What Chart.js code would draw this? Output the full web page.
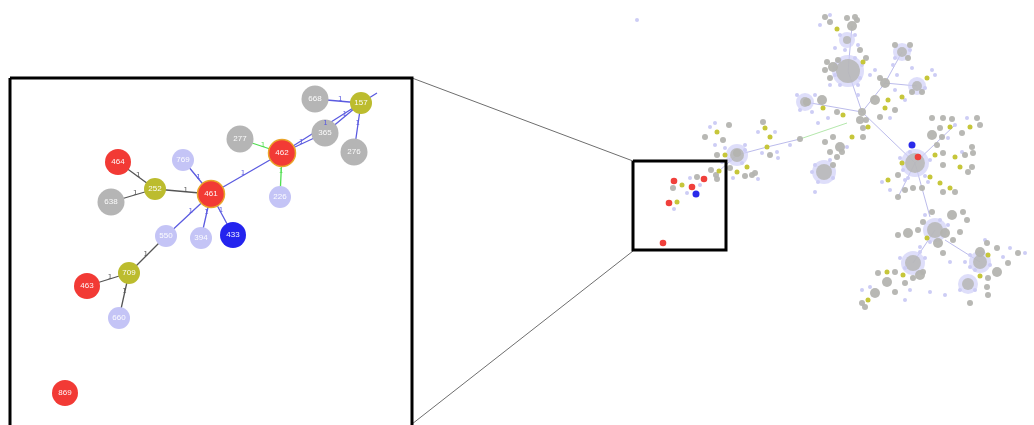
<!DOCTYPE html>
<html lang="en">
<head>
    <meta charset="UTF-8">
    <title>Network overview with zoomed detail</title>
    <style>
        body { margin: 0; padding: 0; background: #fff; }
        .wrap { width: 1034px; height: 425px; }
    </style>
    <script src="https://cdn.jsdelivr.net/npm/chart.js"></script>
</head>
<body>
<div class="wrap"><canvas id="net"></canvas></div>
<script>
    // Zoomed inset: node ids, layout positions and type
    const insetIds  = ['668','157','365','276','277','462','226','464','769','252','461','638','550','394','433','709','463','660','869'];
    const insetX    = [315, 361, 325, 354, 240, 282, 280, 118, 183, 155, 211, 111, 166, 201, 233, 129, 87, 119, 65];
    const insetY    = [99, 103, 133, 152, 139, 153, 197, 162, 160, 189, 194, 202, 236, 238, 235, 273, 286, 318, 393];
    const insetKind = ['gray','olive','gray','gray','gray','hub','lav','red','lav','olive','hub','gray','lav','lav','blue','olive','red','lav','red'];

    // Inset edges: from, to, colour class
    const insetEdges = [
        ['668','157','b'], ['365','157','b'], ['462','157','b'], ['276','157','b'],
        ['365','462','b'], ['277','462','g'], ['226','462','g'], ['462','461','b'],
        ['769','461','b'], ['252','461','k'], ['464','252','k'], ['638','252','k'],
        ['550','461','b'], ['394','461','b'], ['433','461','b'], ['550','709','k'],
        ['463','709','k'], ['660','709','k']
    ];
    const outEdge = [[361, 103], [377, 93]]; // 157 continues out of frame

    // Frames
    const bigBox  = [[10, 78], [412, 78], [412, 432], [10, 432], [10, 78]];
    const miniBox = [[633, 161], [726, 161], [726, 250], [633, 250], [633, 161]];
    const links   = [[[412, 78], [633, 161]], [[412, 424], [633, 251]]];

    // Overview network: dense clusters [x, y, r]
    const netBlobs = [[848,71,12],[915,163,10],[935,230,8],[913,263,8],[980,262,7],[968,284,6],
                      [737,155,7],[824,172,8],[805,102,5],[902,52,5],[917,86,5],[847,40,4]];
    // gray nodes [x, y, r]
    const netGray = [
        [825,17,3],[830,22,3],[847,18,3],[855,17,3],[852,26,5],[838,60,3],[833,67,5],[827,62,3],[825,70,3],[830,78,3],
        [857,20,3],[860,50,3],[866,58,3],[895,45,3],[910,45,3],[908,58,3],[885,83,5],[880,78,3],[912,92,3],[922,92,3],
        [862,112,4],[860,120,4],[866,120,3],[875,100,5],[895,110,3],[880,117,3],[863,128,3],[863,137,3],
        [807,102,4],[822,100,5],[837,112,3],[800,139,3],[833,137,3],[840,147,5],[825,142,3],[830,152,3],[842,152,3],[837,157,3],[833,165,3],
        [723,140,3],[729,125,3],[705,137,3],[737,153,4],[717,155,3],[730,168,3],[745,176,3],[752,175,3],[755,173,3],[763,122,3],[770,155,3],
        [932,118,3],[943,118,3],[952,119,3],[940,128,3],[932,135,5],[942,137,3],[937,145,3],[962,133,3],[977,118,3],[980,125,3],
        [943,153,3],[972,147,3],[973,153,3],[965,155,3],[943,165,3],[972,167,3],[968,172,3],[898,175,3],[905,190,3],[913,188,3],
        [922,188,3],[898,197,3],[943,192,3],[955,192,3],
        [952,215,5],[945,233,5],[963,212,3],[918,230,3],[908,233,5],[898,235,3],[938,243,5],[943,253,3],[953,240,3],[960,232,3],
        [967,220,3],[932,212,3],[923,222,3],
        [980,252,5],[987,243,3],[997,248,3],[1018,253,3],[1008,263,3],[997,272,5],[988,278,3],[987,287,3],[988,295,3],[970,303,3],
        [920,275,5],[913,278,3],[895,272,3],[878,273,3],[887,282,5],[895,292,3],[905,283,3],[875,293,5],[865,307,3],[862,303,3],[923,272,3],
        [711,170,3],[716,175,3],[717,179,3],[697,177,3],[673,188,3]
    ];
    // olive nodes [x, y]
    const netOlive = [
        [837,29],[823,108],[843,115],[852,137],[717,132],[725,155],[767,147],[765,128],[770,137],[863,62],
        [927,78],[902,97],[888,100],[885,108],[868,127],[950,127],[970,127],[935,155],[955,157],[960,167],
        [902,163],[888,180],[930,177],[940,183],[950,188],[927,238],[988,255],[980,276],[903,275],[887,272],
        [868,300],[737,172],[747,167],[719,171],[682,185],[677,202]
    ];
    // small lavender nodes [x, y]
    const netLav = [
        [637,20],[830,15],[820,25],[840,35],[855,35],[845,50],[835,48],[858,45],[870,75],[875,70],
        [858,85],[858,95],[893,65],[897,75],[912,68],[932,70],[935,75],[905,100],[890,118],[818,123],
        [828,118],[815,95],[797,95],[800,110],[812,112],[710,127],[715,123],[715,145],[745,145],[758,132],
        [775,132],[777,152],[762,153],[758,179],[733,178],[778,158],[790,145],[815,192],[847,147],[948,138],
        [955,125],[967,118],[962,152],[882,182],[890,190],[905,180],[928,182],[920,247],[970,267],[1003,257],
        [1010,248],[910,290],[870,287],[862,290],[930,292],[945,295],[905,300],[960,290],[687,193],[674,209],
        [700,185],[690,178],[1025,253],[985,240],[950,262],
        [903,170],[908,178],[925,176],[930,160],[900,158],[910,152],[925,215],[930,242],[948,225],[940,220],
        [900,258],[905,268],[925,258],[920,252],[970,255],[990,265],[975,270],[965,262],[835,75],[840,85],
        [860,78],[862,65],[840,60],[855,58],[830,85],[725,148],[745,150],[730,160],[742,163],[722,162],
        [815,165],[833,178],[818,182],[830,160],[812,172],[895,58],[910,50],[895,90],[925,88],[975,290]
    ];
    const netRed  = [[674,181],[692,187],[704,179],[669,203],[663,243],[918,157]];
    const netBlue = [[696,194],[912,145]];
    // faint links between clusters [x1, y1, x2, y2]
    const netLinks = [
        [719,171,737,155],[737,155,767,147],[767,147,800,139],[848,71,862,112],[805,102,862,112],
        [862,112,915,163],[915,163,930,217],[935,230,913,263],[945,240,980,262],[852,26,848,71],
        [885,83,862,112],[917,86,885,83],[902,52,885,83],[915,163,955,125],[915,163,898,197]
    ];
    const netGreenLink = [800,139,847,123];

    const colors = {
        gray: '#b5b5b5', olive: '#bcbc2e', red: '#f23a35', hub: '#f23a35',
        lav: '#c4c4f6', blue: '#2424ee'
    };
    const edgeColors = { b: '#5b5be0', g: '#4fdf4f', k: '#555555' };

    const idx = {};
    insetIds.forEach((id, i) => idx[id] = i);
    const radiusOf = k => ({gray: 13.5, olive: 11, red: 13, hub: 13.5, lav: 11, blue: 13})[k];

    const datasets = [];

    // Inset nodes
    datasets.push({
        type: 'bubble', label: 'inset', order: 1,
        data: insetIds.map((id, i) => ({ x: insetX[i], y: insetY[i], r: radiusOf(insetKind[i]) })),
        backgroundColor: insetKind.map(k => colors[k]),
        borderColor: insetKind.map(k => k === 'hub' ? '#e9a52a' : 'rgba(0,0,0,0)'),
        borderWidth: insetKind.map(k => k === 'hub' ? 1.5 : 0)
    });

    // Inset edges
    const edgeSets = { b: [], g: [], k: [] };
    insetEdges.forEach(([a, b, c]) => {
        edgeSets[c].push({ x: insetX[idx[a]], y: insetY[idx[a]] }, { x: insetX[idx[b]], y: insetY[idx[b]] }, { x: null, y: null });
    });
    edgeSets.b.push({ x: outEdge[0][0], y: outEdge[0][1] }, { x: outEdge[1][0], y: outEdge[1][1] });
    Object.keys(edgeSets).forEach(c => {
        datasets.push({
            type: 'scatter', label: 'edges-' + c, order: 40, showLine: true, spanGaps: false,
            data: edgeSets[c], borderColor: edgeColors[c], borderWidth: 1.3, pointRadius: 0
        });
    });

    // Frames
    const pts = arr => arr.map(p => ({ x: p[0], y: p[1] }));
    datasets.push({ type: 'scatter', label: 'bigBox', order: 50, showLine: true, data: pts(bigBox), borderColor: '#000', borderWidth: 3, pointRadius: 0 });
    datasets.push({ type: 'scatter', label: 'miniBox', order: 0, showLine: true, data: pts(miniBox), borderColor: '#000', borderWidth: 3, pointRadius: 0 });
    const linkData = [];
    links.forEach(l => linkData.push({ x: l[0][0], y: l[0][1] }, { x: l[1][0], y: l[1][1] }, { x: null, y: null }));
    datasets.push({ type: 'scatter', label: 'links', order: 50, showLine: true, spanGaps: false, data: linkData, borderColor: '#6e6e6e', borderWidth: 1, pointRadius: 0 });

    // Overview network
    const netLinkData = [];
    netLinks.forEach(l => netLinkData.push({ x: l[0], y: l[1] }, { x: l[2], y: l[3] }, { x: null, y: null }));
    datasets.push({ type: 'scatter', label: 'netLinks', order: 45, showLine: true, spanGaps: false, data: netLinkData, borderColor: 'rgba(170,170,230,0.8)', borderWidth: 1, pointRadius: 0 });
    datasets.push({ type: 'scatter', label: 'netGreen', order: 45, showLine: true, data: [{ x: netGreenLink[0], y: netGreenLink[1] }, { x: netGreenLink[2], y: netGreenLink[3] }], borderColor: 'rgba(160,225,150,0.8)', borderWidth: 1, pointRadius: 0 });
    datasets.push({ type: 'bubble', label: 'halo', order: 35, data: netBlobs.map(b => ({ x: b[0], y: b[1], r: b[2] + 4 })), backgroundColor: 'rgba(208,208,248,0.7)', borderWidth: 0 });
    datasets.push({ type: 'bubble', label: 'blobs', order: 30, data: netBlobs.map(b => ({ x: b[0], y: b[1], r: b[2] })), backgroundColor: 'rgba(180,180,176,0.8)', borderWidth: 0 });
    datasets.push({ type: 'bubble', label: 'lav', order: 28, data: netLav.map(p => ({ x: p[0], y: p[1], r: 2 })), backgroundColor: '#cdcdf5', borderWidth: 0 });
    datasets.push({ type: 'bubble', label: 'gray', order: 25, data: netGray.map(p => ({ x: p[0], y: p[1], r: p[2] })), backgroundColor: 'rgba(180,180,176,0.95)', borderWidth: 0 });
    datasets.push({ type: 'bubble', label: 'olive', order: 22, data: netOlive.map(p => ({ x: p[0], y: p[1], r: 2.5 })), backgroundColor: '#c6c63a', borderWidth: 0 });
    datasets.push({ type: 'bubble', label: 'red', order: 20, data: netRed.map(p => ({ x: p[0], y: p[1], r: 3.3 })), backgroundColor: '#f0403b', borderWidth: 0 });
    datasets.push({ type: 'bubble', label: 'blue', order: 20, data: netBlue.map(p => ({ x: p[0], y: p[1], r: 3.5 })), backgroundColor: '#2a2aea', borderWidth: 0 });

    // Node labels and edge weight marks
    const labelPlugin = {
        id: 'labels',
        afterDatasetsDraw(chart) {
            const ctx = chart.ctx;
            const meta = chart.getDatasetMeta(0);
            ctx.save();
            ctx.textAlign = 'center';
            ctx.textBaseline = 'middle';
            // edge "1" marks
            ctx.font = '7px "DejaVu Sans"';
            insetEdges.forEach(([a, b, c]) => {
                const p = meta.data[idx[a]], q = meta.data[idx[b]];
                const mx = p.x + (q.x - p.x) * 0.55, my = p.y + (q.y - p.y) * 0.55;
                ctx.fillStyle = edgeColors[c];
                ctx.fillText('1', mx, my - 2);
            });
            ctx.font = '8px "Liberation Sans"';
            ctx.fillStyle = 'rgba(255,255,255,0.95)';
            meta.data.forEach((el, i) => ctx.fillText(insetIds[i], el.x, el.y));
            ctx.restore();
        }
    };

    new Chart(document.getElementById('net'), {
        type: 'bubble',
        data: { datasets },
        options: {
            responsive: true,
            maintainAspectRatio: false,
            animation: false,
            events: [],
            layout: { padding: 0, autoPadding: false },
            plugins: { legend: { display: false }, tooltip: { enabled: false } },
            elements: { point: { hoverRadius: 0 } },
            clip: false,
            scales: {
                x: { type: 'linear', min: 0, max: 1034, display: false },
                y: { type: 'linear', min: 0, max: 425, reverse: true, display: false }
            }
        },
        plugins: [labelPlugin]
    });
</script>
</body>
</html>
